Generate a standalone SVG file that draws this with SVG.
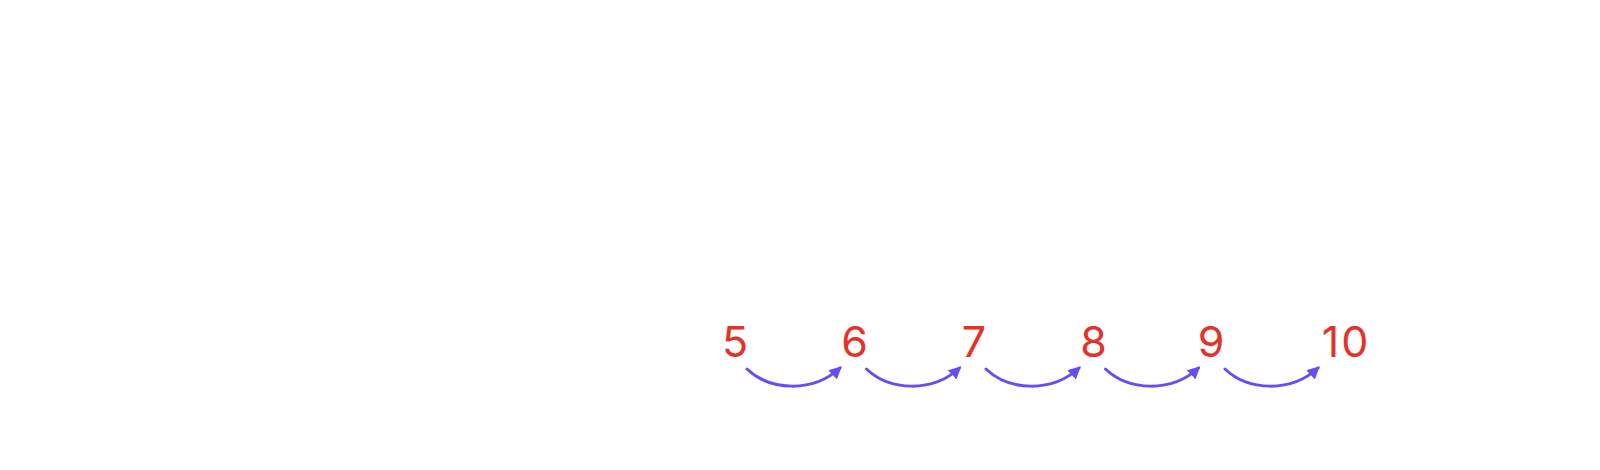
<svg xmlns="http://www.w3.org/2000/svg" width="1600" height="470" viewBox="0 0 1600 470">
<style>
.n{font-family:Inter,"Open Sans",sans-serif;font-size:43px;font-weight:400;fill:#e53228;text-anchor:middle}
.a{fill:none;stroke:#6a4cf2;stroke-width:3;stroke-linecap:round;marker-end:url(#ah)}
</style>
<defs>
<marker id="ah" viewBox="0 0 10 10" refX="8" refY="5" markerWidth="4.2" markerHeight="4.2" orient="auto" markerUnits="strokeWidth">
<path d="M0,0 L10,5 L0,10 Z" fill="#6a4cf2"/>
</marker>
</defs>
<rect width="1600" height="470" fill="#fff"/>
<g id="n5"><text class="n" x="735" y="356.5">5</text></g>
<g id="n6"><text class="n" x="854.5" y="356.5">6</text></g>
<g id="n7"><text class="n" x="974" y="356.5">7</text></g>
<g id="n8"><text class="n" x="1093.5" y="356.5">8</text></g>
<g id="n9"><text class="n" x="1211" y="356.5">9</text></g>
<g id="n10"><text class="n" x="1346" y="356.5" letter-spacing="2">10</text></g>
<g id="connectors">
<path class="a" d="M747,369 C770,391 813,393 840,368"/>
<path class="a" d="M866.5,369 C889.5,391 932.5,393 959.5,368"/>
<path class="a" d="M986,369 C1009,391 1052,393 1079,368"/>
<path class="a" d="M1105.5,369 C1128.5,391 1171.5,393 1198.5,368"/>
<path class="a" d="M1225,369 C1248,391 1291,393 1318,368"/>
</g>
</svg>
